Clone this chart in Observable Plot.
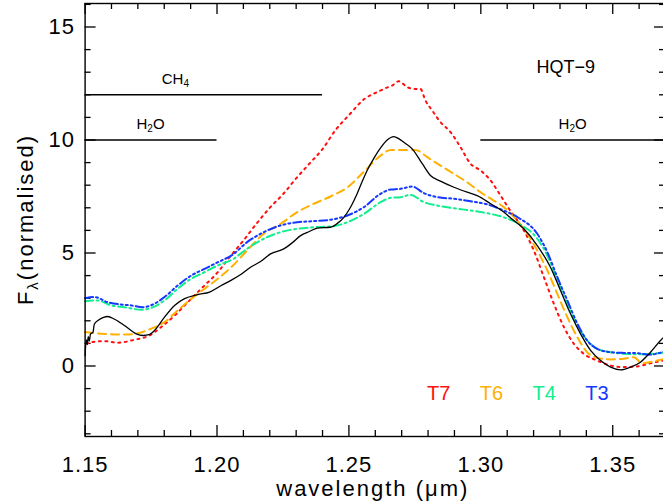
<!DOCTYPE html>
<html><head><meta charset="utf-8">
<script src="https://cdn.jsdelivr.net/npm/d3@7"></script>
<script src="https://cdn.jsdelivr.net/npm/@observablehq/plot@0.6"></script>
<style>
html,body{margin:0;padding:0;background:#fff;overflow:hidden}
svg{display:block}
</style>
</head><body><div id="chart"></div>
<script>
// ---- data: [wavelength (µm), normalised flux] ----
const hqt9 = [[1.1500,0.45],[1.1502,0.9],[1.1505,1.15],[1.1508,0.95],[1.1512,1.3],[1.1516,1.1],[1.1520,1.4],[1.1530,1.5],[1.1535,1.85],[1.1550,2.02],[1.1570,2.15],[1.1586,2.19],[1.1610,2.08],[1.1649,1.79],[1.1694,1.42],[1.1719,1.35],[1.1745,1.40],[1.1763,1.57],[1.1801,2.16],[1.1839,2.68],[1.1877,2.98],[1.1927,3.16],[1.1972,3.27],[1.2016,3.56],[1.2051,3.78],[1.2090,4.05],[1.2127,4.37],[1.2165,4.62],[1.2203,4.96],[1.2253,5.18],[1.2285,5.45],[1.2317,5.77],[1.2350,5.95],[1.2380,6.10],[1.2430,6.14],[1.2455,6.30],[1.2481,6.58],[1.2505,7.0],[1.2531,7.62],[1.2550,8.15],[1.2569,8.65],[1.2595,9.2],[1.2620,9.65],[1.2645,10.0],[1.2670,10.15],[1.2690,10.05],[1.2708,9.9],[1.2740,9.61],[1.2778,8.95],[1.2809,8.43],[1.2847,8.18],[1.2898,7.91],[1.2948,7.69],[1.2986,7.54],[1.3037,7.18],[1.3087,6.81],[1.3113,6.55],[1.3163,6.07],[1.3214,5.33],[1.3264,4.37],[1.3302,3.34],[1.3340,2.31],[1.3378,1.42],[1.3416,0.69],[1.3454,0.24],[1.3492,-0.05],[1.3530,-0.17],[1.3567,-0.05],[1.3605,0.17],[1.3643,0.61],[1.3681,1.13],[1.3700,1.35]];
const t7 = [[1.1504,0.98],[1.1540,1.08],[1.1574,1.10],[1.1624,1.03],[1.1687,1.16],[1.1744,1.35],[1.1788,1.72],[1.1839,2.23],[1.1889,2.82],[1.1940,3.42],[1.2003,4.15],[1.2050,4.85],[1.2100,5.55],[1.2150,6.3],[1.2200,7.0],[1.2250,7.6],[1.2300,8.3],[1.2350,8.95],[1.2400,9.6],[1.2450,10.45],[1.2500,11.1],[1.2557,11.8],[1.2613,12.15],[1.2640,12.3],[1.2664,12.41],[1.2689,12.6],[1.2721,12.34],[1.2746,12.26],[1.2771,12.26],[1.2790,11.75],[1.2816,11.3],[1.2847,10.79],[1.2885,10.35],[1.2923,9.68],[1.2961,8.95],[1.2999,8.65],[1.3037,8.21],[1.3075,7.54],[1.3113,6.85],[1.3163,6.0],[1.3201,5.11],[1.3239,3.93],[1.3277,2.75],[1.3315,1.72],[1.3353,0.98],[1.3390,0.54],[1.3441,0.24],[1.3492,0.02],[1.3542,-0.05],[1.3593,-0.02],[1.3643,0.12],[1.3700,0.26]];
const t6 = [[1.1500,1.50],[1.1574,1.42],[1.1649,1.39],[1.1700,1.45],[1.1750,1.65],[1.1801,1.94],[1.1851,2.46],[1.1902,2.97],[1.1953,3.42],[1.2003,3.86],[1.2054,4.37],[1.2114,5.11],[1.2177,5.85],[1.2241,6.29],[1.2304,6.81],[1.2367,7.18],[1.2430,7.5],[1.2494,7.9],[1.2557,8.6],[1.2620,9.31],[1.2658,9.56],[1.2708,9.56],[1.2752,9.56],[1.2797,9.24],[1.2847,8.87],[1.2898,8.50],[1.2948,8.13],[1.2999,7.69],[1.3049,7.32],[1.3087,7.03],[1.3125,6.6],[1.3176,5.85],[1.3214,5.11],[1.3252,4.23],[1.3290,3.19],[1.3328,2.16],[1.3366,1.27],[1.3403,0.61],[1.3441,0.36],[1.3492,0.29],[1.3542,0.32],[1.3580,0.39],[1.3612,0.12],[1.3656,0.21],[1.3700,0.32]];
const t4 = [[1.1500,2.87],[1.1548,2.90],[1.1599,2.68],[1.1649,2.60],[1.1713,2.49],[1.1750,2.57],[1.1801,2.90],[1.1851,3.42],[1.1902,3.86],[1.1953,4.15],[1.2003,4.45],[1.2060,4.72],[1.2114,5.19],[1.2177,5.63],[1.2241,5.92],[1.2304,6.07],[1.2367,6.14],[1.2430,6.17],[1.2494,6.36],[1.2557,6.73],[1.2620,7.25],[1.2658,7.44],[1.2696,7.47],[1.2734,7.57],[1.2784,7.25],[1.2835,7.10],[1.2898,6.98],[1.2961,6.88],[1.3024,6.76],[1.3087,6.58],[1.3144,6.29],[1.3214,5.63],[1.3252,4.89],[1.3290,3.78],[1.3328,2.75],[1.3366,1.79],[1.3403,1.13],[1.3441,0.76],[1.3492,0.61],[1.3542,0.54],[1.3593,0.52],[1.3643,0.54],[1.3700,0.60]];
const t3 = [[1.1500,3.0],[1.1536,3.05],[1.1586,2.82],[1.1637,2.72],[1.1675,2.68],[1.1719,2.60],[1.1757,2.72],[1.1801,3.05],[1.1851,3.56],[1.1902,4.0],[1.1953,4.30],[1.2003,4.59],[1.2060,4.93],[1.2114,5.48],[1.2177,5.92],[1.2241,6.22],[1.2304,6.36],[1.2367,6.41],[1.2430,6.47],[1.2494,6.66],[1.2557,7.03],[1.2620,7.62],[1.2658,7.81],[1.2696,7.84],[1.2740,7.94],[1.2784,7.65],[1.2835,7.47],[1.2898,7.40],[1.2961,7.29],[1.3024,7.15],[1.3087,6.88],[1.3144,6.55],[1.3214,5.85],[1.3252,5.04],[1.3290,3.93],[1.3328,2.90],[1.3366,1.87],[1.3403,1.13],[1.3441,0.76],[1.3492,0.61],[1.3542,0.58],[1.3593,0.57],[1.3637,0.50],[1.3700,0.66]];

// absorption bands
const bandNames = ["CH", "H", "H"];
const bandSubs = ["4", "2", "2"];
const bandTails = ["", "O", "O"];
const bandStart = [1.15, 1.15, 1.30];
const bandEnd = [1.24, 1.20, 1.37];
const bandLevel = [12, 10, 10];
const bandLabelAt = [1.1844, 1.175, 1.335];

// legend / labels
const templateNames = ["T7", "T6", "T4", "T3"];
const templateColors = ["#ff1010", "#ffb000", "#10ee90", "#1438ff"];
const objectName = "HQT\u22129";

// axes
const xMajor = [1.15, 1.20, 1.25, 1.30, 1.35];
const xMinor = d3.range(115, 138).map(d => d / 100).filter(d => !xMajor.some(m => Math.abs(m - d) < 1e-9));
const yMajor = [0, 5, 10, 15];
const yMinor = d3.range(-3, 17).filter(d => !yMajor.includes(d));

const W = 663, H = 503, mL = 84.6, mR = -2, mT = 3, mB = 67;
const fw = W - mL - mR, fh = H - mT - mB;
const MAJ = 11, MIN = 6;
const tickStyle = {stroke: "black", strokeWidth: 1.3};
const FONT = "'Liberation Sans', Arial, sans-serif";

const toRows = arr => arr.map(([wl, f]) => ({wl, f}));

const chart = Plot.plot({
  width: W, height: H,
  marginLeft: mL, marginRight: mR, marginTop: mT, marginBottom: mB,
  x: {domain: [1.15, 1.37]},
  y: {domain: [-3.12, 16.04]},
  style: {fontFamily: FONT, background: "#fff", color: "black"},
  marks: [
    // tick marks (inward)
    Plot.tickX(xMajor, {x: d => d, insetTop: fh - MAJ, ...tickStyle}),
    Plot.tickX(xMajor, {x: d => d, insetBottom: fh - MAJ, ...tickStyle}),
    Plot.tickX(xMinor, {x: d => d, insetTop: fh - MIN, ...tickStyle}),
    Plot.tickX(xMinor, {x: d => d, insetBottom: fh - MIN, ...tickStyle}),
    Plot.tickY(yMajor, {y: d => d, insetRight: fw - MAJ, ...tickStyle}),
    Plot.tickY(yMajor, {y: d => d, insetLeft: fw - MAJ, ...tickStyle}),
    Plot.tickY(yMinor, {y: d => d, insetRight: fw - MIN, ...tickStyle}),
    Plot.tickY(yMinor, {y: d => d, insetLeft: fw - MIN, ...tickStyle}),
    Plot.axisX(xMajor, {tickSize: 0, tickPadding: 20, fontSize: 22, tickFormat: d => d.toFixed(2), label: null}),
    Plot.axisY(yMajor, {tickSize: 0, tickPadding: 10, fontSize: 22, tickFormat: d => String(d), label: null}),
    // absorption band lines
    Plot.ruleY(d3.range(bandLevel.length), {y: i => bandLevel[i], x1: i => bandStart[i], x2: i => bandEnd[i], stroke: "black", strokeWidth: 1.6}),
    // template spectra
    Plot.line(toRows(t7), {x: "wl", y: "f", stroke: templateColors[0], strokeWidth: 2, strokeDasharray: "2,4.5", curve: "monotone-x"}),
    Plot.line(toRows(t6), {x: "wl", y: "f", stroke: templateColors[1], strokeWidth: 2, strokeDasharray: "8,5", curve: "monotone-x"}),
    Plot.line(toRows(t4), {x: "wl", y: "f", stroke: templateColors[2], strokeWidth: 2, strokeDasharray: "8,3.5,2,3.5", curve: "monotone-x"}),
    Plot.line(toRows(t3), {x: "wl", y: "f", stroke: templateColors[3], strokeWidth: 2, strokeDasharray: "8,3,2,3,2,3,2,3", curve: "monotone-x"}),
    // object spectrum
    Plot.line(toRows(hqt9), {x: "wl", y: "f", stroke: "black", strokeWidth: 1.3, curve: "monotone-x"}),
    // object name
    Plot.text([objectName], {x: 1.3322, y: 13.23, text: d => d, fontSize: 18, fill: "black"}),
    // legend
    Plot.text(templateNames, {x: (d, i) => 1.284 + i * 0.02, y: -1.2, text: d => d, fontSize: 20, fill: (d, i) => templateColors[i]}),
    Plot.frame({stroke: "black", strokeWidth: 1.4})
  ]
});

const sx = chart.scale("x"), sy = chart.scale("y");
const svg = d3.select(chart);
svg.selectAll("g[aria-label='x-axis tick label'] text, g[aria-label='y-axis tick label'] text").style("letter-spacing", "1px");

// band labels with subscripts
bandNames.forEach((n, i) => {
  const t = svg.append("text")
    .attr("x", sx.apply(bandLabelAt[i])).attr("y", sy.apply(bandLevel[i]) - 10)
    .attr("text-anchor", "middle").attr("font-size", 15).attr("fill", "black")
    .style("font-family", FONT);
  t.append("tspan").text(n);
  t.append("tspan").attr("font-size", 10).attr("dy", 3).text(bandSubs[i]);
  if (bandTails[i]) t.append("tspan").attr("dy", -3).text(bandTails[i]);
});

// x title
svg.append("text")
  .attr("x", (sx.apply(1.15) + sx.apply(1.37)) / 2 - 2).attr("y", 496)
  .attr("text-anchor", "middle").attr("font-size", 22).attr("fill", "black")
  .style("letter-spacing", "2px").style("font-family", FONT)
  .text("wavelength (\u03bcm)");

// y title
const yt = svg.append("text")
  .attr("transform", `translate(33,${(sy.apply(-3.12) + sy.apply(16.04)) / 2}) rotate(-90)`)
  .attr("text-anchor", "middle").attr("font-size", 22).attr("fill", "black")
  .style("letter-spacing", "2px").style("font-family", FONT);
yt.append("tspan").text("F");
yt.append("tspan").attr("font-size", 15).attr("dy", 5).text("\u03bb");
yt.append("tspan").attr("dy", -5).text("(normalised)");

document.getElementById("chart").append(chart);
</script>
</body></html>
